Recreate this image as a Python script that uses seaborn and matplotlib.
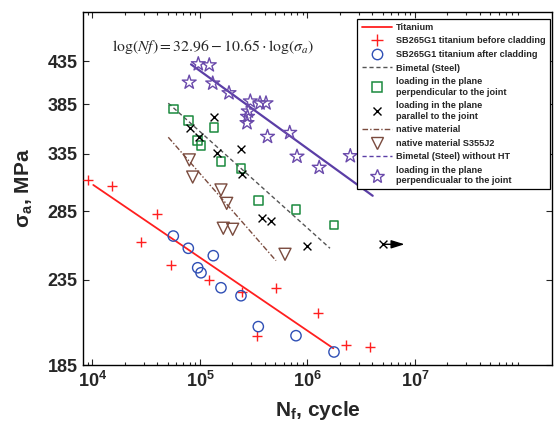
import numpy as np
import pandas as pd
import matplotlib
matplotlib.use("Agg")
import matplotlib.pyplot as plt
import seaborn as sns
from matplotlib.lines import Line2D
from matplotlib.ticker import FixedLocator, NullLocator, NullFormatter, LogLocator

# ---------------- data ----------------
ti_before_N = [9140, 15090, 28250, 39550, 53700, 122000, 244300, 336900, 509300, 1244000, 2280000, 3814000]
ti_before_S = [311.3, 306.1, 261.7, 282.9, 244.9, 235.0, 227.4, 200.9, 229.8, 214.0, 195.7, 194.6]

ti_after_N = [56440, 77840, 132950, 95190, 102200, 156800, 240600, 348600, 781600, 1764000]
ti_after_S = [265.9, 256.9, 251.6, 243.2, 239.8, 229.9, 224.8, 206.1, 200.9, 191.9]

ti_fit_N = [10170, 1738000]
ti_fit_S = [307.0, 193.9]

perp_N = [56440, 77840, 134950, 95190, 102200, 156800, 240600, 348600, 781600, 1764000]
perp_S = [380.2, 367.9, 360.6, 347.7, 342.8, 327.8, 321.7, 293.8, 286.8, 274.3]

par_N = [80720, 98510, 135900, 143000, 239000, 246900, 375000, 457600, 983000, 5005000]
par_S = [360.6, 351.1, 371.4, 336.1, 339.4, 316.4, 279.5, 277.6, 258.6, 259.8]
runout_end_N = 8.0e6

bimetal_fit_N = [50700, 1619000]
bimetal_fit_S = [386.4, 256.9]

native_N = [79540, 85520, 156800, 177100, 164700, 201400, 617600]
native_S = [329.4, 313.9, 302.7, 291.5, 271.8, 271.0, 252.6]

native_fit_N = [50700, 509300]
native_fit_S = [351.1, 248.1]

noht_N = [96430, 122000, 79360, 131300, 186100, 293800, 361500, 411100, 281400, 276700, 273700, 424600, 683000, 798700, 1285000, 2501000]
noht_S = [431.4, 430.1, 409.7, 408.6, 397.6, 388.5, 386.4, 386.4, 377.7, 372.0, 365.5, 351.7, 355.6, 332.6, 322.4, 333.1]

noht_fit_N = [82460, 4041000]
noht_fit_S = [431.0, 297.8]

y_ticks = [185, 235, 285, 335, 385, 435]
x_ticks = [1e4, 1e5, 1e6, 1e7]
x_tick_labels = [r"$\mathbf{10^{4}}$", r"$\mathbf{10^{5}}$", r"$\mathbf{10^{6}}$", r"$\mathbf{10^{7}}$"]

# ---------------- style ----------------
sns.set_style("ticks")
plt.rcParams["font.family"] = ["Liberation Sans", "DejaVu Sans"]
plt.rcParams["mathtext.fontset"] = "custom"
plt.rcParams["mathtext.rm"] = "Liberation Sans"
plt.rcParams["mathtext.bf"] = "Liberation Sans:bold"
plt.rcParams["mathtext.it"] = "Liberation Sans:italic"

RED = "#ff1f1f"
BLUE = "#2f4fb5"
GREEN = "#1b8a3e"
GRAY = "#555555"
BROWN = "#7a4b3e"
PURPLE = "#6a4aab"
PLINE = "#5b3ea6"

fig = plt.figure(figsize=(5.55, 4.25), dpi=100)
ax = fig.add_axes([83 / 555, 60 / 425, 469 / 555, 353 / 425])
ax.set_xscale("log")
ax.set_yscale("log")

# fit lines
sns.lineplot(x=ti_fit_N, y=ti_fit_S, ax=ax, color=RED, lw=1.3, zorder=2)
sns.lineplot(x=bimetal_fit_N, y=bimetal_fit_S, ax=ax, color=GRAY, lw=1.0, zorder=2,
             linestyle=(0, (3, 2)))
sns.lineplot(x=native_fit_N, y=native_fit_S, ax=ax, color=BROWN, lw=1.0, zorder=2,
             linestyle=(0, (4, 1.5, 1, 1.5)))
sns.lineplot(x=noht_fit_N, y=noht_fit_S, ax=ax, color=PLINE, lw=1.6, zorder=2)

# points
sns.scatterplot(x=ti_before_N, y=ti_before_S, ax=ax, marker="+", s=60, color=RED, linewidth=1.0, zorder=3)
sns.scatterplot(x=ti_after_N, y=ti_after_S, ax=ax, marker="o", s=55, facecolors="none",
                edgecolor=BLUE, linewidth=1.0, zorder=3)
sns.scatterplot(x=perp_N, y=perp_S, ax=ax, marker="s", s=40, facecolors="none",
                edgecolor=GREEN, linewidth=1.1, zorder=3)
sns.scatterplot(x=par_N, y=par_S, ax=ax, marker="x", s=32, color="black", linewidth=1.0, zorder=3)
sns.scatterplot(x=native_N, y=native_S, ax=ax, marker="v", s=75, facecolors="none",
                edgecolor=BROWN, linewidth=1.0, zorder=3)
sns.scatterplot(x=noht_N, y=noht_S, ax=ax, marker="*", s=110, facecolors="none",
                edgecolor=PURPLE, linewidth=1.0, zorder=3)

# run-out arrow
ax.annotate("", xy=(runout_end_N, par_S[-1]), xytext=(par_N[-1], par_S[-1]),
            arrowprops=dict(arrowstyle="-|>,head_length=0.8,head_width=0.25", color="black", lw=1.0,
                            mutation_scale=10, shrinkA=0, shrinkB=0), zorder=3)

# equation
ax.text(1.32e5, 452, r"$\log(Nf) = 32.96 - 10.65 \cdot \log(\sigma_a)$", ha="center", va="center",
        fontsize=11.3, math_fontfamily="stix", zorder=4)

# axes
ax.set_xlim(8160, 1.881e8)
ax.set_ylim(185, 499.4)
ax.xaxis.set_major_locator(FixedLocator(x_ticks))
ax.set_xticklabels(x_tick_labels)
ax.xaxis.set_minor_locator(LogLocator(base=10, subs=np.arange(2, 10), numticks=20))
ax.xaxis.set_minor_formatter(NullFormatter())
ax.yaxis.set_major_locator(FixedLocator(y_ticks))
ax.set_yticklabels([str(v) for v in y_ticks])
ax.yaxis.set_minor_locator(NullLocator())
ax.yaxis.set_minor_formatter(NullFormatter())

ax.tick_params(which="both", direction="in", top=True, right=True, width=0.8)
ax.tick_params(which="major", length=4, labelsize=13, pad=4)
ax.tick_params(which="minor", length=2)
for lab in ax.get_yticklabels():
    lab.set_fontweight("bold")
for sp in ax.spines.values():
    sp.set_linewidth(1.0)
    sp.set_color("black")

ax.set_xlabel(r"$\mathbf{N_f}$, cycle", fontsize=15, fontweight="bold", labelpad=6)
ax.set_ylabel(r"$\mathbf{\sigma_a}$, MPa", fontsize=15, fontweight="bold", labelpad=9)

# legend
handles = [
    Line2D([], [], color=RED, lw=1.3),
    Line2D([], [], color=RED, marker="+", ls="none", markersize=8, mew=1.0),
    Line2D([], [], color=BLUE, marker="o", ls="none", markersize=7.5, mfc="none", mew=1.0),
    Line2D([], [], color=GRAY, lw=1.0, ls=(0, (3, 2))),
    Line2D([], [], color=GREEN, marker="s", ls="none", markersize=6.5, mfc="none", mew=1.1),
    Line2D([], [], color="black", marker="x", ls="none", markersize=5.5, mew=1.0),
    Line2D([], [], color=BROWN, lw=1.0, ls=(0, (4, 1.5, 1, 1.5))),
    Line2D([], [], color=BROWN, marker="v", ls="none", markersize=8.5, mfc="none", mew=1.0),
    Line2D([], [], color=PLINE, lw=1.0, ls=(0, (3, 2))),
    Line2D([], [], color=PURPLE, marker="*", ls="none", markersize=10, mfc="none", mew=1.0),
]
labels = [
    "Titanium",
    "SB265G1 titanium before cladding",
    "SB265G1 titanium after cladding",
    "Bimetal (Steel)",
    "loading in the plane\nperpendicular to the joint",
    "loading in the plane\nparallel to the joint",
    "native material",
    "native material S355J2",
    "Bimetal (Steel) without HT",
    "loading in the plane\nperpendicualar to the joint",
]
leg = ax.legend(handles, labels, loc="upper right", bbox_to_anchor=(0.996, 0.981),
                prop={"size": 6.6, "weight": "bold"}, frameon=True, fancybox=False,
                framealpha=1, edgecolor="black", handlelength=3.3, handletextpad=0.5,
                labelspacing=0.5, borderpad=0.45, borderaxespad=0)
leg.get_frame().set_linewidth(0.9)
leg.set_zorder(5)

fig.savefig("out.png", dpi=100)
